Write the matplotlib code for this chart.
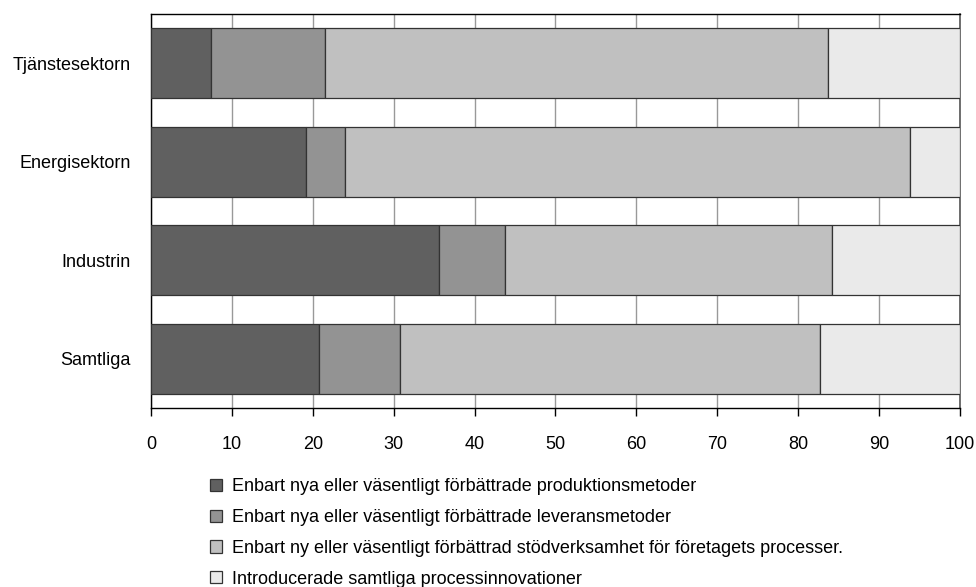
import matplotlib
matplotlib.use("Agg")
import matplotlib.pyplot as plt
from matplotlib import font_manager
from matplotlib.patches import Patch
import numpy as np

# font: narrow Arial look-alike if available
names = {f.name for f in font_manager.fontManager.ttflist}
if "Liberation Sans Narrow" in names:
    plt.rcParams["font.family"] = ["Liberation Sans Narrow", "DejaVu Sans"]
else:
    plt.rcParams["font.family"] = ["Liberation Sans", "DejaVu Sans"]

categories = ["Tjänstesektorn", "Energisektorn", "Industrin", "Samtliga"]
produktion = [7.4, 19.2, 35.6, 20.7]
leverans = [14.1, 4.8, 8.1, 10.1]
stod = [62.2, 69.8, 40.5, 51.9]
samtliga = [16.3, 6.2, 15.8, 17.3]

series = [produktion, leverans, stod, samtliga]
labels = [
    "Enbart nya eller väsentligt förbättrade produktionsmetoder",
    "Enbart nya eller väsentligt förbättrade leveransmetoder",
    "Enbart ny eller väsentligt förbättrad stödverksamhet för företagets processer.",
    "Introducerade samtliga processinnovationer",
]
colors = ["#606060", "#939393", "#c0c0c0", "#eaeaea"]

fig = plt.figure(figsize=(9.76, 5.87), dpi=100)
ax = fig.add_axes([0.155, 0.305, 0.8283, 0.671])

y = np.arange(len(categories))
left = np.zeros(len(categories))
for vals, col in zip(series, colors):
    ax.barh(y, vals, left=left, height=0.71, color=col, edgecolor="#333333",
            linewidth=0.9, zorder=3)
    left += np.array(vals)

ax.set_xlim(0, 100)
ax.set_ylim(len(categories) - 0.5, -0.5)
ax.set_xticks(range(0, 101, 10))
ax.set_yticks(y)
ax.set_yticklabels(categories, fontsize=13)
ax.tick_params(axis="x", direction="out", length=6, width=1, pad=14, labelsize=13)
ax.tick_params(axis="y", length=0, pad=15)
ax.grid(axis="x", color="#999999", linewidth=1, zorder=0)

for s in ["top", "left", "bottom"]:
    ax.spines[s].set_color("black")
    ax.spines[s].set_linewidth(1)
ax.spines["right"].set_color("#555555")
ax.spines["right"].set_linewidth(1.2)

handles = [Patch(facecolor=c, edgecolor="#333333", linewidth=0.9) for c in colors]
fig.legend(handles, labels, loc="upper left", bbox_to_anchor=(0.215, 0.185),
           frameon=False, fontsize=13, handlelength=0.65, handleheight=0.65,
           handletextpad=0.55, labelspacing=0.76, borderpad=0, borderaxespad=0)

fig.savefig("out.png", dpi=100)
